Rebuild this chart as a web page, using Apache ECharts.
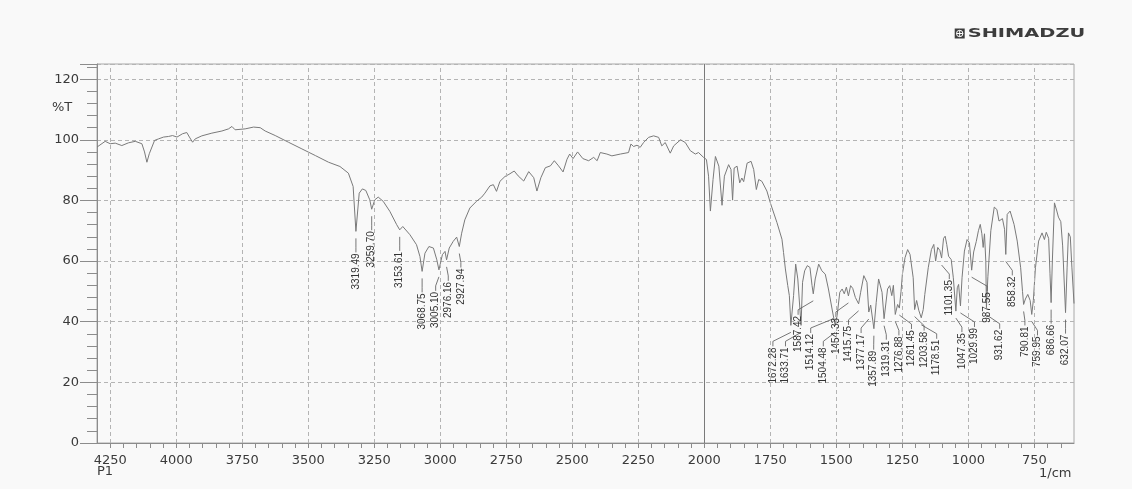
<!DOCTYPE html>
<html>
<head>
<meta charset="utf-8">
<title>IR spectrum</title>
<script src="https://cdn.jsdelivr.net/npm/echarts@6/dist/echarts.min.js"></script>
<style>
  html, body { margin: 0; padding: 0; background: #f9f9f9; }
  #chart { width: 1132px; height: 489px; }
</style>
</head>
<body>
<div id="chart"></div>
<script>
// transmittance trace, [wavenumber (1/cm), %T], left to right
const spectrum = [
  [4300, 97.6], [4294, 98.2], [4269, 99.5], [4250, 98.7], [4231, 98.9], [4206, 98.1],
  [4181, 99.0], [4155, 99.5], [4130, 98.7], [4120, 96.0], [4111, 92.6], [4102, 95.4],
  [4082, 99.8], [4067, 100.3], [4048, 100.9], [4029, 101.1], [4014, 101.4], [3997, 100.9],
  [3976, 102.0], [3960, 102.4], [3950, 100.9], [3938, 99.2], [3928, 100.3], [3903, 101.3],
  [3865, 102.2], [3827, 102.9], [3802, 103.6], [3789, 104.4], [3777, 103.3], [3739, 103.6],
  [3707, 104.2], [3682, 104.0], [3663, 102.9], [3625, 101.4], [3575, 99.2], [3524, 97.0],
  [3473, 94.8], [3423, 92.6], [3380, 91.2], [3348, 89.0], [3330, 84.6], [3319.49, 69.8],
  [3307, 82.4], [3295, 83.8], [3282, 83.3], [3267, 80.2], [3259.70, 77.1], [3248, 80.2],
  [3235, 81.1], [3216, 79.7], [3191, 76.4], [3165, 72.0], [3153.61, 70.3], [3142, 71.4],
  [3115, 68.7], [3090, 65.4], [3077, 61.5], [3068.75, 56.6], [3058, 62.6], [3043, 64.8],
  [3026, 64.3], [3013, 60.4], [3005.10, 57.1], [2992, 62.1], [2982, 63.2], [2976.16, 60.4],
  [2966, 64.3], [2951, 66.5], [2938, 67.9], [2927.94, 64.8], [2919, 69.2], [2907, 73.6],
  [2888, 77.5], [2863, 79.7], [2843, 81.1], [2831, 82.4], [2812, 84.8], [2799, 85.2],
  [2787, 83.0], [2774, 86.3], [2755, 87.9], [2740, 88.6], [2720, 89.7], [2705, 88.1],
  [2684, 86.4], [2665, 89.5], [2646, 87.5], [2634, 83.1], [2619, 87.5], [2602, 90.8],
  [2583, 91.4], [2568, 93.1], [2552, 91.4], [2535, 89.4], [2520, 93.6], [2510, 95.3],
  [2497, 93.8], [2480, 96.0], [2460, 93.8], [2438, 93.1], [2419, 94.2], [2406, 93.1],
  [2394, 95.8], [2369, 95.3], [2350, 94.7], [2318, 95.3], [2287, 95.8], [2278, 98.6],
  [2268, 97.8], [2255, 98.2], [2243, 97.5], [2230, 99.1], [2211, 100.8], [2192, 101.3],
  [2173, 100.8], [2161, 98.0], [2148, 99.1], [2129, 95.6], [2116, 98.0], [2090, 100.0],
  [2072, 99.1], [2053, 96.4], [2034, 95.3], [2022, 95.8], [2003, 94.2], [1992, 93.5],
  [1984, 88.0], [1977, 76.5], [1967, 86.9], [1958, 94.5], [1945, 91.3], [1933, 78.4],
  [1924, 88.0], [1908, 91.8], [1899, 90.2], [1893, 80.1], [1887, 90.7], [1876, 91.3],
  [1866, 85.8], [1858, 87.4], [1851, 86.2], [1838, 92.3], [1823, 92.9], [1813, 90.2],
  [1803, 83.6], [1794, 86.9], [1782, 86.3], [1763, 83.1], [1750, 79.2], [1725, 72.7],
  [1706, 67.2], [1700, 62.8], [1693, 57.4], [1684, 51.9], [1678, 48.6], [1672.28, 38.8],
  [1662, 48.6], [1654, 59.0], [1646, 54.1], [1633.71, 38.8], [1628, 53.0], [1620, 56.8],
  [1610, 58.5], [1600, 57.9], [1592, 51.9], [1587.42, 49.2], [1580, 54.1], [1567, 59.0],
  [1555, 56.8], [1542, 55.7], [1530, 50.8], [1514.12, 43.2], [1504.48, 38.8], [1497, 42.1],
  [1487, 49.7], [1478, 50.8], [1470, 49.2], [1462, 51.4], [1454.33, 48.5], [1446, 51.9],
  [1438, 51.0], [1428, 48.0], [1415.75, 45.9], [1408, 49.7], [1396, 55.2], [1384, 53.0],
  [1377.17, 43.2], [1370, 45.5], [1357.89, 37.7], [1349, 46.4], [1340, 54.1], [1327, 49.7],
  [1319.31, 41.0], [1306, 50.8], [1298, 51.9], [1290, 48.6], [1284, 52.0], [1276.88, 42.4],
  [1268, 45.7], [1261.45, 44.5], [1255, 50.0], [1250, 55.6], [1240, 61.1], [1230, 63.8],
  [1221, 62.2], [1209, 54.5], [1203.58, 44.0], [1196, 47.0], [1188, 43.8], [1178.51, 41.3],
  [1171, 44.0], [1165, 49.0], [1152, 57.8], [1140, 63.8], [1131, 65.5], [1124, 60.0],
  [1116, 64.5], [1108, 63.5], [1101.35, 61.0], [1094, 67.5], [1088, 68.2], [1082, 65.5],
  [1075, 61.6], [1065, 60.5], [1057, 54.5], [1047.35, 43.5], [1042, 51.2], [1037, 52.3],
  [1029.99, 45.2], [1024, 54.5], [1015, 63.3], [1005, 67.1], [996, 66.0], [987.55, 57.0],
  [980, 63.0], [970, 66.5], [962, 70.0], [955, 72.1], [949, 69.0], [944, 64.5],
  [939, 69.0], [934, 60.0], [931.62, 44.6], [926, 55.0], [915, 70.0], [902, 77.8],
  [892, 77.0], [884, 73.2], [871, 74.0], [863, 70.5], [858.32, 62.2], [853, 75.4],
  [842, 76.5], [827, 72.1], [815, 66.6], [802, 57.8], [795, 50.0], [790.81, 45.7],
  [784, 47.5], [775, 49.0], [766, 47.0], [759.95, 42.4], [754, 47.0], [746, 57.8],
  [734, 66.6], [721, 69.3], [712, 67.1], [705, 69.5], [696, 67.5], [691, 56.0],
  [686.66, 46.3], [682, 60.0], [674, 79.2], [665, 76.5], [659, 74.5], [650, 73.0],
  [643, 65.0], [632.07, 43.0], [626, 58.0], [621, 69.3], [614, 68.0], [608, 58.0],
  [600, 46.0]
];

// picked peaks printed on the chart
const peakWavenumbers = [
  3319.49, 3259.70, 3153.61, 3068.75, 3005.10, 2976.16, 2927.94,
  1672.28, 1633.71, 1587.42, 1514.12, 1504.48, 1454.33, 1415.75, 1377.17,
  1357.89, 1319.31, 1276.88, 1261.45, 1203.58, 1178.51, 1101.35, 1047.35,
  1029.99, 987.55, 931.62, 858.32, 790.81, 759.95, 686.66, 632.07
];

const xTickLabels = [4250, 4000, 3750, 3500, 3250, 3000, 2750, 2500, 2250, 2000, 1750, 1500, 1250, 1000, 750];
const yTickLabels = [0, 20, 40, 60, 80, 100, 120];

const axisFont = 'DejaVu Sans';
const peakFont = "'Liberation Sans Narrow', 'Liberation Sans', sans-serif";

function valueAt(wn) {
  for (let i = 1; i < spectrum.length; i++) {
    const [x0, y0] = spectrum[i - 1];
    const [x1, y1] = spectrum[i];
    if (wn <= x0 && wn >= x1) return y0 + (y1 - y0) * (x0 - wn) / (x0 - x1);
  }
  return null;
}

// spread crowded labels evenly around the mean of their peaks
function spreadLabels(xs, gap) {
  const groups = xs.map((x, i) => ({ from: i, to: i, sum: x }));
  const centre = g => g.sum / (g.to - g.from + 1);
  const half = g => (g.to - g.from) * gap / 2;
  let merged = true;
  while (merged) {
    merged = false;
    for (let i = 0; i + 1 < groups.length; i++) {
      const a = groups[i], b = groups[i + 1];
      if ((centre(b) - half(b)) - (centre(a) + half(a)) < gap) {
        groups.splice(i, 2, { from: a.from, to: b.to, sum: a.sum + b.sum });
        merged = true;
        break;
      }
    }
  }
  const out = [];
  groups.forEach(g => {
    const start = centre(g) - half(g);
    for (let k = g.from; k <= g.to; k++) out.push(start + (k - g.from) * gap);
  });
  return out;
}

let labelX = [];

function renderPeak(params, api) {
  if (params.dataIndex === 0 || !labelX.length) {
    labelX = spreadLabels(peakWavenumbers.map(wn => api.coord([wn, valueAt(wn)])[0]), 12.6);
  }
  const pt = api.coord([api.value(0), api.value(1)]);
  const lx = labelX[params.dataIndex];
  const top = pt[1] + 22;
  return {
    type: 'group',
    children: [
      {
        type: 'polyline',
        shape: { points: [[pt[0], pt[1] + 7], [lx, top - 6], [lx, top - 1]] },
        style: { stroke: '#555', lineWidth: 0.8, fill: null }
      },
      {
        type: 'text',
        x: lx,
        y: top,
        rotation: Math.PI / 2,
        style: {
          text: api.value(0).toFixed(2),
          align: 'right',
          verticalAlign: 'middle',
          fontSize: 10,
          fontFamily: peakFont,
          fill: '#333'
        }
      }
    ]
  };
}

const chart = echarts.init(document.getElementById('chart'));

chart.setOption({
  animation: false,
  backgroundColor: '#f9f9f9',
  grid: {
    left: 97, right: 58, top: 64, bottom: 46,
    show: true, borderColor: '#a8a8a8', borderWidth: 1
  },
  xAxis: {
    type: 'value',
    inverse: true,
    min: 600,
    max: 4300,
    interval: 50,
    axisLine: { show: true, onZero: false, lineStyle: { color: '#8c8c8c' } },
    axisTick: { show: true, length: 5, lineStyle: { color: '#8c8c8c' } },
    axisLabel: {
      margin: 11, fontSize: 13, fontFamily: axisFont, color: '#3a3a3a',
      showMinLabel: false, showMaxLabel: false,
      formatter: v => (xTickLabels.includes(v) ? String(v) : '')
    },
    splitLine: { show: false }
  },
  yAxis: {
    type: 'value',
    min: 0,
    max: 125,
    interval: 20,
    axisLine: { show: true, lineStyle: { color: '#8c8c8c' } },
    axisTick: { show: true, length: 17, lineStyle: { color: '#8c8c8c' } },
    minorTick: { show: true, splitNumber: 5, length: 10, lineStyle: { color: '#8c8c8c' } },
    axisLabel: {
      margin: 18, fontSize: 13, fontFamily: axisFont, color: '#3a3a3a',
      showMaxLabel: false,
      formatter: v => (yTickLabels.includes(v) ? String(v) : '')
    },
    splitLine: { show: true, lineStyle: { type: [4, 3], color: '#b4b4b4' } }
  },
  series: [
    {
      type: 'line',
      data: spectrum,
      showSymbol: false,
      symbol: 'none',
      lineStyle: { color: '#7a7a7a', width: 1 },
      z: 3,
      markLine: {
        silent: true,
        symbol: ['none', 'none'],
        label: { show: false },
        lineStyle: { type: [4, 3], color: '#b4b4b4', width: 1 },
        data: xTickLabels.map(v => ({ xAxis: v })).concat([
          { xAxis: 2000, lineStyle: { type: 'solid', color: '#7a7a7a', width: 1 } }
        ])
      }
    },
    {
      type: 'custom',
      silent: true,
      z: 4,
      data: peakWavenumbers.map(wn => [wn, valueAt(wn)]),
      encode: { x: 0, y: 1 },
      renderItem: renderPeak
    }
  ],
  graphic: [
    { type: 'text', left: 52, top: 101, style: { text: '%T', font: '13px ' + axisFont, fill: '#3a3a3a' } },
    { type: 'text', left: 97, top: 465, style: { text: 'P1', font: '13px ' + axisFont, fill: '#3a3a3a' } },
    { type: 'text', left: 1039, top: 467, style: { text: '1/cm', font: '13px ' + axisFont, fill: '#3a3a3a' } },
    {
      type: 'group',
      left: 954,
      top: 27,
      children: [
        { type: 'rect', shape: { x: 0, y: 0, width: 10, height: 10 }, style: { fill: '#3d3d3d' } },
        { type: 'circle', shape: { cx: 5, cy: 5, r: 3.2 }, style: { fill: null, stroke: '#fff', lineWidth: 1 } },
        { type: 'line', shape: { x1: 1.8, y1: 5, x2: 8.2, y2: 5 }, style: { stroke: '#fff', lineWidth: 1 } },
        { type: 'line', shape: { x1: 5, y1: 1.8, x2: 5, y2: 8.2 }, style: { stroke: '#fff', lineWidth: 1 } },
        { type: 'text', x: 13, y: -1.5, scaleX: 1.55, style: { text: 'SHIMADZU', font: 'bold 12.5px ' + axisFont, fill: '#3d3d3d' } }
      ]
    }
  ]
});
</script>
</body>
</html>
